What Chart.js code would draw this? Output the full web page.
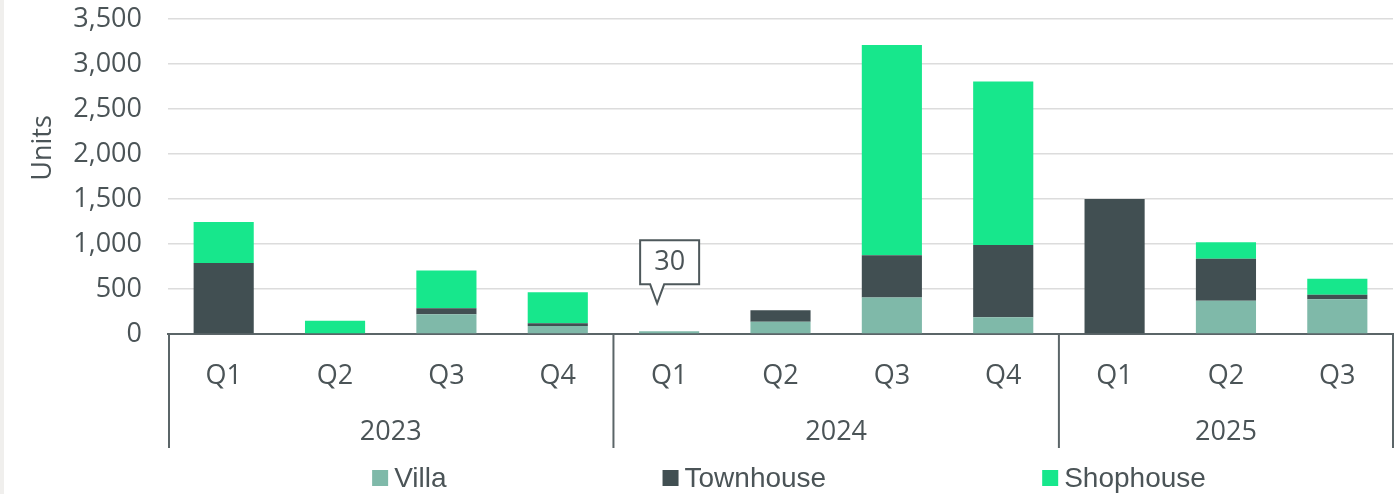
<!DOCTYPE html>
<html>
<head>
<meta charset="utf-8">
<script src="https://cdn.jsdelivr.net/npm/chart.js@4"></script>
<style>
  html, body { margin: 0; padding: 0; background: #fff; }
  body { width: 1394px; height: 494px; overflow: hidden; position: relative; }
  #strip { position: absolute; left: 0; top: 0; width: 4px; height: 494px; background: #f0efed; }
  canvas { display: block; }
</style>
</head>
<body>
<div id="strip"></div>
<canvas id="chart" width="1394" height="494"></canvas>
<script>
const quarters = ['Q1', 'Q2', 'Q3', 'Q4', 'Q1', 'Q2', 'Q3', 'Q4', 'Q1', 'Q2', 'Q3'];
const years = ['2023', '2024', '2025'];
const quartersPerYear = [4, 4, 3];

const villa = [0, 0, 220, 90, 30, 135, 405, 185, 0, 370, 385];
const townhouse = [790, 0, 65, 30, 0, 130, 470, 805, 1500, 465, 50];
const shophouse = [455, 148, 420, 345, 0, 0, 2335, 1815, 0, 185, 180];

const yTicks = [0, 500, 1000, 1500, 2000, 2500, 3000, 3500];
const calloutIndex = 4;
const calloutText = '30';

const textColor = '#4b5457';
const lineColor = '#5b6568';
const axisFont = '27px "Open Sans", sans-serif';

const ctx = document.getElementById('chart').getContext('2d');

// quarter + year labels, group dividers, y title, callout and legend
const extras = {
  id: 'extras',
  afterDraw(chart) {
    const c = chart.ctx;
    const x = chart.scales.x;
    const area = chart.chartArea;
    const half = (x.getPixelForValue(1) - x.getPixelForValue(0)) / 2;

    c.save();
    c.fillStyle = textColor;
    c.font = axisFont;
    c.textAlign = 'center';
    c.textBaseline = 'middle';
    quarters.forEach((q, i) => c.fillText(q, x.getPixelForValue(i), area.bottom + 42));

    c.strokeStyle = lineColor;
    c.lineWidth = 2;
    let start = 0;
    const edges = [0];
    quartersPerYear.forEach((n, k) => {
      const mid = (x.getPixelForValue(start) + x.getPixelForValue(start + n - 1)) / 2;
      c.fillText(years[k], mid, area.bottom + 98);
      start += n;
      edges.push(start);
    });
    edges.forEach(e => {
      let px = e < quarters.length ? x.getPixelForValue(e) - half : x.getPixelForValue(e - 1) + half;
      px = Math.min(Math.max(px, area.left + 1), chart.width - 1);
      c.beginPath();
      c.moveTo(px, area.bottom);
      c.lineTo(px, area.bottom + 114);
      c.stroke();
    });

    // y title
    c.save();
    c.translate(43, 148);
    c.rotate(-Math.PI / 2);
    c.fillText('Units', 0, 0);
    c.restore();

    // callout above 2024 Q1
    const meta = chart.getDatasetMeta(0);
    const bar = meta.data[calloutIndex];
    const tipX = bar.x - 12;
    const tipY = bar.y - 28;
    const bx = bar.x - 29, by = tipY - 63, bw = 59, bh = 44;
    c.beginPath();
    c.moveTo(bx, by);
    c.lineTo(bx + bw, by);
    c.lineTo(bx + bw, by + bh);
    c.lineTo(tipX + 7, by + bh);
    c.lineTo(tipX, tipY);
    c.lineTo(tipX - 7, by + bh);
    c.lineTo(bx, by + bh);
    c.closePath();
    c.fillStyle = '#fff';
    c.fill();
    c.strokeStyle = '#4e585b';
    c.stroke();
    c.fillStyle = textColor;
    c.fillText(calloutText, bx + bw / 2, by + bh / 2);

    // legend
    c.font = '28px "Liberation Sans", Arial, sans-serif';
    c.textAlign = 'left';
    const box = 16, gap = 6, itemGap = 216;
    const items = chart.data.datasets.map(d => ({ label: d.label, color: d.backgroundColor, w: c.measureText(d.label).width }));
    const total = items.reduce((s, it) => s + box + gap + it.w, 0) + itemGap * (items.length - 1);
    let lx = 789 - total / 2;
    const ly = 478;
    items.forEach(it => {
      c.fillStyle = it.color;
      c.fillRect(lx, ly - box / 2, box, box);
      c.fillStyle = textColor;
      c.fillText(it.label, lx + box + gap, ly + 1);
      lx += box + gap + it.w + itemGap;
    });
    c.restore();
  }
};

new Chart(ctx, {
  type: 'bar',
  data: {
    labels: quarters,
    datasets: [
      { label: 'Villa', data: villa, backgroundColor: '#7fb9a9' },
      { label: 'Townhouse', data: townhouse, backgroundColor: '#414f52' },
      { label: 'Shophouse', data: shophouse, backgroundColor: '#17e78c' }
    ]
  },
  options: {
    responsive: false,
    devicePixelRatio: 1,
    animation: false,
    layout: { padding: { top: 19, right: 1, left: 0, bottom: 0 } },
    datasets: { bar: { categoryPercentage: 1, barPercentage: 0.54 } },
    plugins: {
      legend: { display: false },
      tooltip: { enabled: false }
    },
    scales: {
      x: {
        stacked: true,
        ticks: { display: false },
        grid: { display: false },
        border: { display: true, color: lineColor, width: 2 },
        afterFit(scale) { scale.height = 160; scale.paddingLeft = 0; scale.paddingRight = 0; }
      },
      y: {
        stacked: true,
        min: 0,
        max: 3500,
        afterBuildTicks(scale) { scale.ticks = yTicks.map(v => ({ value: v })); },
        ticks: {
          padding: 26,
          color: textColor,
          font: { family: '"Open Sans", sans-serif', size: 27 },
          callback: v => v.toLocaleString('en-US')
        },
        grid: { color: '#dcdcdc', lineWidth: 1.5, drawTicks: false },
        border: { display: false },
        afterFit(scale) { scale.width = 168; scale.paddingTop = 0; scale.paddingBottom = 0; }
      }
    }
  },
  plugins: [extras]
});
</script>
</body>
</html>
